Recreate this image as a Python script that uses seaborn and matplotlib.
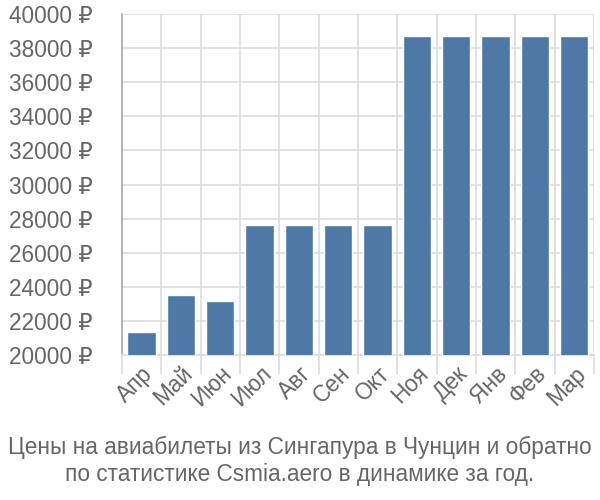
import matplotlib
matplotlib.use("Agg")
import matplotlib.pyplot as plt
import seaborn as sns
import pandas as pd

months = ["Апр", "Май", "Июн", "Июл", "Авг", "Сен", "Окт", "Ноя", "Дек", "Янв", "Фев", "Мар"]
prices = [21360, 23500, 23150, 27650, 27650, 27650, 27650, 38700, 38700, 38700, 38700, 38700]
yticks = list(range(20000, 40001, 2000))
title = "Цены на авиабилеты из Сингапура в Чунцин и обратно\nпо статистике Csmia.aero в динамике за год."

sns.set_style("white")
plt.rcParams['font.family'] = ['Liberation Sans', 'DejaVu Sans']

df = pd.DataFrame({"month": months, "price": prices})

fig = plt.figure(figsize=(6, 5), dpi=100)
ax = fig.add_axes([0.203, 0.29, 0.787, 0.682])
sns.barplot(data=df, x="month", y="price", color="#4e79a7", saturation=1,
            width=0.72, ax=ax, zorder=3)

ax.set_ylim(20000, 40000)
ax.set_xlim(-0.5, len(months) - 0.5)
ax.set_yticks(yticks)
ax.set_yticklabels([f"{v} ₽" for v in yticks])
ax.set_xlabel("")
ax.set_ylabel("")

grid_c = "#dddddd"
ax.yaxis.grid(True, color=grid_c, linewidth=1.2, zorder=0)
for b in range(len(months) + 1):
    ax.axvline(b - 0.5, color=grid_c, linewidth=1.2, zorder=0)
    ax.plot([b - 0.5, b - 0.5], [0, -0.055], transform=ax.get_xaxis_transform(),
            color=grid_c, linewidth=1.2, clip_on=False, zorder=0)

for s in ["top", "right"]:
    ax.spines[s].set_visible(False)
ax.spines["left"].set_color("#aaaaaa")
ax.spines["left"].set_linewidth(1.2)
ax.spines["bottom"].set_color(grid_c)
ax.spines["bottom"].set_linewidth(1.2)

ax.tick_params(axis="y", length=20, color=grid_c, width=1.2, labelsize=16.3,
               labelcolor="#666666", pad=1)
ax.tick_params(axis="x", length=0, labelsize=16.3, labelcolor="#666666", pad=5)
for lab in ax.get_xticklabels():
    lab.set_rotation(45)
    lab.set_ha("right")
    lab.set_rotation_mode("anchor")

fig.text(0.5, 0.028, title, ha="center", va="bottom", fontsize=16.3,
         color="#666666", linespacing=1.2)

fig.savefig("out.png", dpi=100)
